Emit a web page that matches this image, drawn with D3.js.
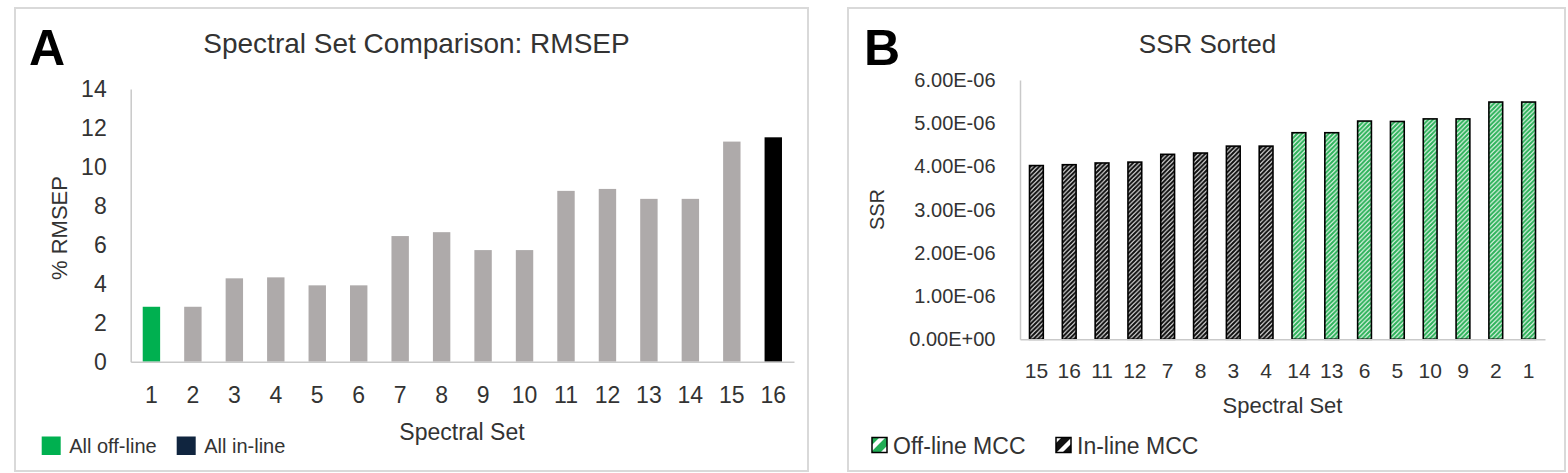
<!DOCTYPE html>
<html><head><meta charset="utf-8">
<script src="https://cdn.jsdelivr.net/npm/d3@7"></script>
<style>
body{margin:0;background:#fff;}
text{font-family:"Liberation Sans",Arial,sans-serif;fill:#333;}
</style></head>
<body><svg id="c" width="1568" height="473"></svg>
<script>
// ---- Panel A data ----
const setsA = ["1","2","3","4","5","6","7","8","9","10","11","12","13","14","15","16"];
const rmsep = [2.82,2.82,4.28,4.33,3.92,3.92,6.45,6.65,5.73,5.73,8.77,8.87,8.36,8.36,11.30,11.52];
const groupA = ["off","mix","mix","mix","mix","mix","mix","mix","mix","mix","mix","mix","mix","mix","mix","in"];
const ticksA = [0,2,4,6,8,10,12,14];
const legendA = ["All off-line","All in-line"];

// ---- Panel B data ----
const setsB = ["15","16","11","12","7","8","3","4","14","13","6","5","10","9","2","1"];
const ssr = [4.02e-6,4.04e-6,4.08e-6,4.10e-6,4.28e-6,4.31e-6,4.47e-6,4.47e-6,4.78e-6,4.78e-6,5.05e-6,5.04e-6,5.10e-6,5.10e-6,5.49e-6,5.49e-6];
const groupB = ["in","in","in","in","in","in","in","in","off","off","off","off","off","off","off","off"];
const ticksB = [0,1e-6,2e-6,3e-6,4e-6,5e-6,6e-6];
const legendB = ["Off-line MCC","In-line MCC"];

const svg = d3.select("#c");
svg.append("rect").attr("width",1568).attr("height",473).attr("fill","#fff");

// patterns
const defs = svg.append("defs");
function hatch(id, color, size, sw){
  const p = defs.append("pattern").attr("id",id).attr("patternUnits","userSpaceOnUse")
    .attr("width",size).attr("height",size);
  p.append("rect").attr("width",size).attr("height",size).attr("fill","#fff");
  p.append("path").attr("d",`M${-size},${size*2} L${size*2},${-size} M0,${size} L${size},0 M${-size},${size} L${size},${-size} M0,${size*2} L${size*2},0`)
    .attr("stroke",color).attr("stroke-width",sw);
}
hatch("hOff","#2fb35c",4.5,2.2);
hatch("hIn","#111",4.5,2.2);
hatch("lOff","#22ad55",16,7);
hatch("lIn","#111",16,7);

// panel borders
svg.append("rect").attr("x",15).attr("y",8).attr("width",793).attr("height",463)
  .attr("fill","none").attr("stroke","#d9d9d9").attr("stroke-width",2);
svg.append("rect").attr("x",848).attr("y",8).attr("width",717).attr("height",463)
  .attr("fill","none").attr("stroke","#d9d9d9").attr("stroke-width",2);

// ===== Panel A =====
const xA = d3.scaleBand().domain(setsA).range([130.7,794]).paddingInner(0.58).paddingOuter(0.29);
const yA = d3.scaleLinear().domain([0,14]).range([361.7,89]);
const colA = {off:"#00b050", mix:"#aeaaaa", in:"#000000"};

svg.append("g").selectAll("rect").data(rmsep).join("rect")
  .attr("x",(d,i)=>xA(setsA[i])).attr("width",xA.bandwidth())
  .attr("y",d=>yA(d)).attr("height",d=>yA(0)-yA(d))
  .attr("fill",(d,i)=>colA[groupA[i]]);

const gyA = svg.append("g").attr("transform","translate(130.7,0)")
  .call(d3.axisLeft(yA).tickValues(ticksA).tickSize(0).tickPadding(24).tickFormat(d3.format("d")));
gyA.select(".domain").attr("stroke","#c9c9c9").attr("stroke-width",1.5);
gyA.selectAll("text").style("font-size","23px").attr("fill","#333");

const gxA = svg.append("g").attr("transform","translate(0,361.7)")
  .call(d3.axisBottom(xA).tickSize(0).tickPadding(25));
gxA.select(".domain").attr("stroke","#c9c9c9").attr("stroke-width",1.5);
gxA.selectAll("text").style("font-size","23px").attr("fill","#333");

svg.append("text").attr("x",416.5).attr("y",53).attr("text-anchor","middle")
  .style("font-size","28px").text("Spectral Set Comparison: RMSEP");
svg.append("text").attr("x",29).attr("y",65).style("font-size","50px").style("font-weight","bold")
  .attr("fill","#000").style("fill","#000").text("A");
svg.append("text").attr("transform","translate(67,228) rotate(-90)").attr("text-anchor","middle")
  .style("font-size","22px").text("% RMSEP");
svg.append("text").attr("x",462).attr("y",440).attr("text-anchor","middle")
  .style("font-size","23px").text("Spectral Set");

// legend A
const legAcol = ["#00b050","#10253f"];
const legAx = [41.7,176.7];
legendA.forEach((t,i)=>{
  svg.append("rect").attr("x",legAx[i]).attr("y",436.5).attr("width",19).attr("height",18.5).attr("fill",legAcol[i]);
  svg.append("text").attr("x",legAx[i]+27.5).attr("y",453).style("font-size","20px").text(t);
});

// ===== Panel B =====
const xB = d3.scaleBand().domain(setsB).range([1020,1545]).paddingInner(0.58).paddingOuter(0.29);
const yB = d3.scaleLinear().domain([0,6e-6]).range([339.3,80]);
const fmtE = d=>{
  const s = d.toExponential(2).toUpperCase();
  return s.replace(/E([+-])(\d)$/,"E$10$2");
};

svg.append("g").selectAll("rect").data(ssr).join("rect")
  .attr("x",(d,i)=>xB(setsB[i])).attr("width",xB.bandwidth())
  .attr("y",d=>yB(d)).attr("height",d=>yB(0)-yB(d))
  .attr("fill",(d,i)=>groupB[i]==="off"?"url(#hOff)":"url(#hIn)")
  .attr("stroke","#000").attr("stroke-width",1.6);

const gyB = svg.append("g").attr("transform","translate(1020,0)")
  .call(d3.axisLeft(yB).tickValues(ticksB).tickSize(0).tickPadding(24.5).tickFormat(fmtE));
gyB.select(".domain").attr("stroke","#c9c9c9").attr("stroke-width",1.5);
gyB.selectAll("text").style("font-size","20px").attr("fill","#333");

const gxB = svg.append("g").attr("transform","translate(0,339.3)")
  .call(d3.axisBottom(xB).tickSize(0).tickPadding(24));
gxB.select(".domain").attr("stroke","#c9c9c9").attr("stroke-width",1.5);
gxB.selectAll("text").style("font-size","21px").attr("fill","#333");

svg.append("text").attr("x",1207.5).attr("y",53).attr("text-anchor","middle")
  .style("font-size","26px").text("SSR Sorted");
svg.append("text").attr("x",864).attr("y",65).style("font-size","50px").style("font-weight","bold")
  .style("fill","#000").text("B");
svg.append("text").attr("transform","translate(884,209.5) rotate(-90)").attr("text-anchor","middle")
  .style("font-size","20px").text("SSR");
svg.append("text").attr("x",1282.5).attr("y",413).attr("text-anchor","middle")
  .style("font-size","22px").text("Spectral Set");

// legend B
const legBfill = ["url(#lOff)","url(#lIn)"];
const legBx = [872,1056];
legendB.forEach((t,i)=>{
  svg.append("rect").attr("x",legBx[i]).attr("y",437.5).attr("width",15).attr("height",15)
    .attr("fill",legBfill[i]).attr("stroke","#000").attr("stroke-width",1.5);
  svg.append("text").attr("x",legBx[i]+21).attr("y",454).style("font-size","23px").text(t);
});
</script></body></html>
